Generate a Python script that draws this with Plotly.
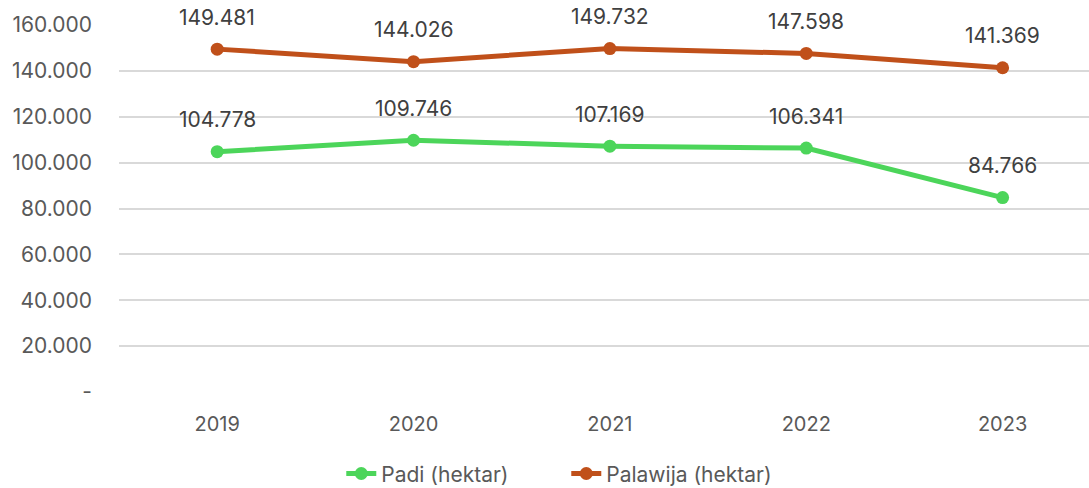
import plotly.graph_objects as go

years = ["2019", "2020", "2021", "2022", "2023"]
padi = [104778, 109746, 107169, 106341, 84766]
palawija = [149481, 144026, 149732, 147598, 141369]
padi_labels = ["104.778", "109.746", "107.169", "106.341", "84.766"]
palawija_labels = ["149.481", "144.026", "149.732", "147.598", "141.369"]
ytick_vals = [0, 20000, 40000, 60000, 80000, 100000, 120000, 140000, 160000]
ytick_text = ["-", "20.000", "40.000", "60.000", "80.000", "100.000", "120.000", "140.000", "160.000"]

green = "#4CD55A"
orange = "#C0501A"
font_family = "Inter, 'Open Sans', sans-serif"

fig = go.Figure()
fig.add_trace(go.Scatter(x=years, y=padi, mode="lines+markers", name="Padi (hektar)",
                         line=dict(color=green, width=5), marker=dict(size=13, color=green)))
fig.add_trace(go.Scatter(x=years, y=palawija, mode="lines+markers", name="Palawija (hektar)",
                         line=dict(color=orange, width=5), marker=dict(size=13, color=orange)))

for ys, labs in [(padi, padi_labels), (palawija, palawija_labels)]:
    for i, (y, t) in enumerate(zip(ys, labs)):
        fig.add_annotation(x=i, y=y, xref="x", yref="y", text=t, showarrow=False, yshift=32,
                           font=dict(size=21, color="#404040", family=font_family))

fig.update_layout(
    width=1089, height=488,
    margin=dict(l=119, r=0, t=25, b=96, autoexpand=False),
    paper_bgcolor="white", plot_bgcolor="white",
    font=dict(family=font_family, color="#595959", size=20),
    showlegend=True,
    legend=dict(orientation="h", xref="container", yref="container", x=0.52, xanchor="center",
                y=0.029, yanchor="middle", font=dict(size=21, color="#595959"),
                entrywidth=180, itemwidth=30),
)
fig.update_xaxes(type="category", range=[-0.5, 4.44], showgrid=False, showline=False,
                 ticks="", ticklabelstandoff=18, tickfont=dict(size=20, color="#595959"))
fig.update_yaxes(range=[0, 160000], tickvals=ytick_vals, ticktext=ytick_text,
                 showgrid=True, gridcolor="#D9D9D9", gridwidth=1.5, zeroline=False,
                 showline=False, ticks="", ticklabelstandoff=26,
                 tickfont=dict(size=21, color="#595959"))

fig.write_html("out.html", config={"displayModeBar": False},
               post_script="document.body.style.margin='0';")
